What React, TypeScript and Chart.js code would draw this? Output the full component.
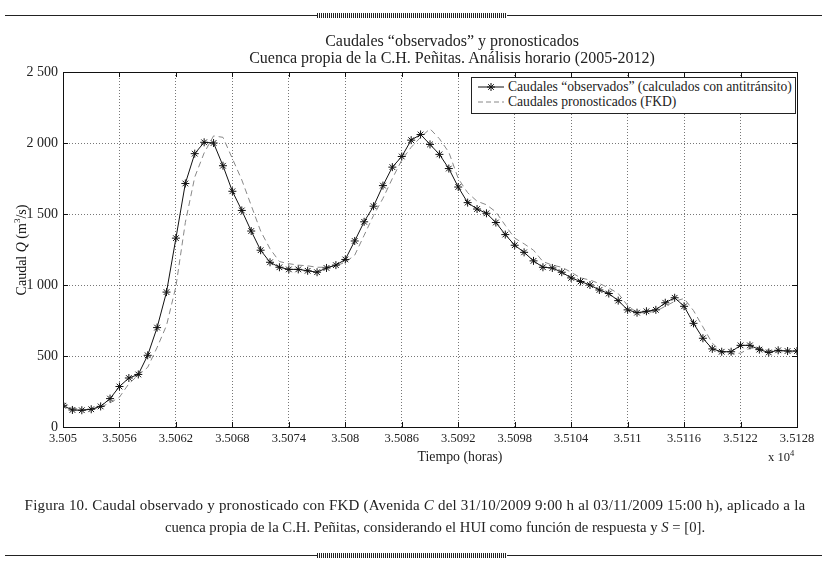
import React, { useEffect, useRef } from "react";
import { Chart, registerables } from "chart.js";
Chart.register(...registerables);

// Time stamps (hours, plotted as x 10^4)
const hours = [
  35050, 35051, 35052, 35053, 35054, 35055, 35056, 35057, 35058, 35059,
  35060, 35061, 35062, 35063, 35064, 35065, 35066, 35067, 35068, 35069,
  35070, 35071, 35072, 35073, 35074, 35075, 35076, 35077, 35078, 35079,
  35080, 35081, 35082, 35083, 35084, 35085, 35086, 35087, 35088, 35089,
  35090, 35091, 35092, 35093, 35094, 35095, 35096, 35097, 35098, 35099,
  35100, 35101, 35102, 35103, 35104, 35105, 35106, 35107, 35108, 35109,
  35110, 35111, 35112, 35113, 35114, 35115, 35116, 35117, 35118, 35119,
  35120, 35121, 35122, 35123, 35124, 35125, 35126, 35127, 35128,
];

const observed = [
  150, 120, 118, 125, 145, 200, 285, 345, 370, 505,
  700, 950, 1330, 1715, 1925, 2005, 2000, 1840, 1660, 1525,
  1380, 1245, 1160, 1125, 1110, 1110, 1100, 1090, 1120, 1140,
  1180, 1310, 1445, 1555, 1700, 1830, 1905, 2020, 2060, 1990,
  1920, 1820, 1690, 1580, 1535, 1505, 1440, 1355, 1280, 1230,
  1170, 1125, 1120, 1090, 1050, 1025, 1000, 965, 940, 890,
  825, 805, 815, 825, 875, 910, 850, 730, 625, 550,
  530, 530, 575, 575, 545, 525, 540, 535, 535,
];

const forecast = [
  175, 135, 120, 125, 140, 170, 210, 305, 365, 420,
  560, 715, 990, 1440, 1760, 1930, 2050, 2040, 1890, 1740,
  1560, 1380, 1255, 1165, 1150, 1140, 1135, 1125, 1125, 1135,
  1160, 1210, 1350, 1490, 1610, 1750, 1880, 1970, 2040, 2100,
  2030, 1935, 1750, 1650, 1590, 1565, 1515, 1420, 1330, 1290,
  1245, 1165, 1140, 1125, 1090, 1050, 1035, 1010, 980, 940,
  855, 805, 805, 815, 850, 885, 905, 820, 705, 590,
  530, 515, 520, 555, 560, 540, 530, 530, 525,
];

const xTicks = [35050, 35056, 35062, 35068, 35074, 35080, 35086, 35092, 35098, 35104, 35110, 35116, 35122, 35128];
const yTicks = [0, 500, 1000, 1500, 2000, 2500];
const seriesLabels = [
  "Caudales \u201Cobservados\u201D (calculados con antitr\u00E1nsito)",
  "Caudales pronosticados (FKD)",
];

const FONT = "'Liberation Serif', 'DejaVu Serif', serif";

function fmtX(v: number) {
  return parseFloat((v / 10000).toFixed(4)).toString();
}
function fmtY(v: number) {
  return v >= 1000 ? Math.floor(v / 1000) + " " + String(v % 1000).padStart(3, "0") : String(v);
}

const frame = {
  id: "frame",
  afterDraw(chart: any) {
    const { ctx, chartArea, scales } = chart;
    const { left, right, top, bottom } = chartArea;
    ctx.save();
    ctx.setLineDash([]);
    ctx.strokeStyle = "#111";
    ctx.lineWidth = 1;
    ctx.strokeRect(Math.round(left) + 0.5, Math.round(top) + 0.5, Math.round(right - left), Math.round(bottom - top));
    const L = 5;
    ctx.beginPath();
    xTicks.forEach((v) => {
      const px = Math.round(scales.x.getPixelForValue(v)) + 0.5;
      ctx.moveTo(px, bottom);
      ctx.lineTo(px, bottom - L);
      ctx.moveTo(px, top);
      ctx.lineTo(px, top + L);
    });
    yTicks.forEach((v) => {
      const py = Math.round(scales.y.getPixelForValue(v)) + 0.5;
      ctx.moveTo(left, py);
      ctx.lineTo(left + L, py);
      ctx.moveTo(right, py);
      ctx.lineTo(right - L, py);
    });
    ctx.stroke();
    ctx.restore();
  },
};

function Rule({ top }: { top: number }) {
  return (
    <>
      <div style={{ position: "absolute", left: 5, width: 817, top, height: 0, borderTop: "1px solid #222" }} />
      <div
        style={{
          position: "absolute",
          left: 317,
          width: 190,
          top: top - 2,
          height: 5,
          background: "repeating-linear-gradient(90deg, #222 0px, #222 1px, #fff 1px, #fff 2px)",
        }}
      />
    </>
  );
}

export default function App() {
  const ref = useRef<HTMLCanvasElement>(null);
  useEffect(() => {
    const ctx = ref.current!.getContext("2d")!;
    const chart = new Chart(ctx, {
      type: "line",
      data: {
        datasets: [
          {
            label: seriesLabels[0],
            data: hours.map((h, i) => ({ x: h, y: observed[i] })),
            borderColor: "#111",
            borderWidth: 1,
            pointStyle: "star",
            pointRadius: 4,
            pointBorderColor: "#111",
            pointBorderWidth: 1,
            pointBackgroundColor: "#111",
            tension: 0,
            fill: false,
          },
          {
            label: seriesLabels[1],
            data: hours.map((h, i) => ({ x: h, y: forecast[i] })),
            borderColor: "#888",
            borderWidth: 1,
            borderDash: [6, 4],
            pointRadius: 0,
            tension: 0,
            fill: false,
          },
        ],
      },
      options: {
        animation: false,
        responsive: false,
        maintainAspectRatio: false,
        layout: { padding: { left: 8, right: 30, top: 72, bottom: 129 } },
        plugins: { legend: { display: false }, title: { display: false }, tooltip: { enabled: false } },
        scales: {
          x: {
            type: "linear",
            min: 35050,
            max: 35128,
            afterBuildTicks: (s: any) => {
              s.ticks = xTicks.map((v) => ({ value: v }));
            },
            afterFit: (s: any) => {
              s.height = 20;
            },
            ticks: {
              callback: (v: any) => fmtX(Number(v)),
              font: { family: FONT, size: 12.5 },
              color: "#222",
              padding: 4,
              maxRotation: 0,
              autoSkip: false,
            },
            grid: { color: "#777", lineWidth: 1, drawTicks: false },
            border: { display: false, dash: [1, 2] },
          },
          y: {
            min: 0,
            max: 2500,
            afterBuildTicks: (s: any) => {
              s.ticks = yTicks.map((v) => ({ value: v }));
            },
            afterFit: (s: any) => {
              s.width = 55;
            },
            ticks: {
              callback: (v: any) => fmtY(Number(v)),
              font: { family: FONT, size: 14 },
              color: "#222",
              padding: 5,
            },
            grid: { color: "#777", lineWidth: 1, drawTicks: false },
            border: { display: false, dash: [1, 2] },
          },
        },
      },
      plugins: [frame],
    } as any);
    return () => chart.destroy();
  }, []);

  const textStyle: React.CSSProperties = { position: "absolute", fontFamily: FONT, color: "#222", whiteSpace: "nowrap" };

  return (
    <div style={{ position: "absolute", left: 0, top: 0, width: 827, height: 576, background: "#fff", overflow: "hidden" }}>
      <Rule top={15} />
      <canvas ref={ref} width={827} height={576} style={{ position: "absolute", left: 0, top: 0, width: 827, height: 576 }} />
      <div style={{ ...textStyle, left: 152, width: 600, top: 32, textAlign: "center", fontSize: 16, lineHeight: "17px" }}>
        Caudales {"\u201Cobservados\u201D"} y pronosticados
        <br />
        Cuenca propia de la C.H. Pe{"\u00F1"}itas. An{"\u00E1"}lisis horario (2005-2012)
      </div>
      <div
        style={{
          ...textStyle,
          left: -38,
          top: 242,
          width: 120,
          height: 16,
          lineHeight: "16px",
          textAlign: "center",
          fontSize: 14,
          color: "#111",
          transform: "rotate(-90deg)",
        }}
      >
        Caudal <i>Q</i> (m<sup style={{ fontSize: 9, lineHeight: 0 }}>3</sup>/s)
      </div>
      <div style={{ ...textStyle, left: 360, width: 200, top: 449, textAlign: "center", fontSize: 13.8, lineHeight: "16px" }}>
        Tiempo (horas)
      </div>
      <div style={{ ...textStyle, left: 768, top: 449, fontSize: 12.5, lineHeight: "16px" }}>
        x 10<sup style={{ fontSize: 8.5, lineHeight: 0 }}>4</sup>
      </div>
      <div
        style={{
          position: "absolute",
          left: 471,
          top: 77,
          width: 323,
          height: 35,
          border: "1px solid #222",
          background: "#fff",
          fontFamily: FONT,
          fontSize: 13.6,
          color: "#222",
          whiteSpace: "nowrap",
        }}
      >
        <svg style={{ position: "absolute", left: 6, top: 4 }} width={26} height={10}>
          <line x1={0} y1={5} x2={26} y2={5} stroke="#111" strokeWidth={1} />
          <line x1={13} y1={1} x2={13} y2={9} stroke="#111" strokeWidth={1} />
          <line x1={9} y1={5} x2={17} y2={5} stroke="#111" strokeWidth={1} />
          <line x1={10.2} y1={2.2} x2={15.8} y2={7.8} stroke="#111" strokeWidth={1} />
          <line x1={10.2} y1={7.8} x2={15.8} y2={2.2} stroke="#111" strokeWidth={1} />
        </svg>
        <div style={{ position: "absolute", left: 36, top: 1, lineHeight: "15px" }}>{seriesLabels[0]}</div>
        <svg style={{ position: "absolute", left: 6, top: 19 }} width={26} height={10}>
          <line x1={0} y1={5} x2={26} y2={5} stroke="#888" strokeWidth={1} strokeDasharray="5 3" />
        </svg>
        <div style={{ position: "absolute", left: 36, top: 16, lineHeight: "15px" }}>{seriesLabels[1]}</div>
      </div>
      <div style={{ ...textStyle, left: 15, width: 800, top: 494, textAlign: "center", fontSize: 15, letterSpacing: 0.2, lineHeight: "22px" }}>
        Figura 10. Caudal observado y pronosticado con FKD (Avenida <i>C</i> del 31/10/2009 9:00 h al 03/11/2009 15:00 h), aplicado a la
      </div>
      <div style={{ ...textStyle, left: 35, width: 800, top: 516, textAlign: "center", fontSize: 14.7, lineHeight: "22px" }}>
        cuenca propia de la C.H. Pe{"\u00F1"}itas, considerando el HUI como funci{"\u00F3"}n de respuesta y <i>S</i> = [0].
      </div>
      <Rule top={555} />
    </div>
  );
}
